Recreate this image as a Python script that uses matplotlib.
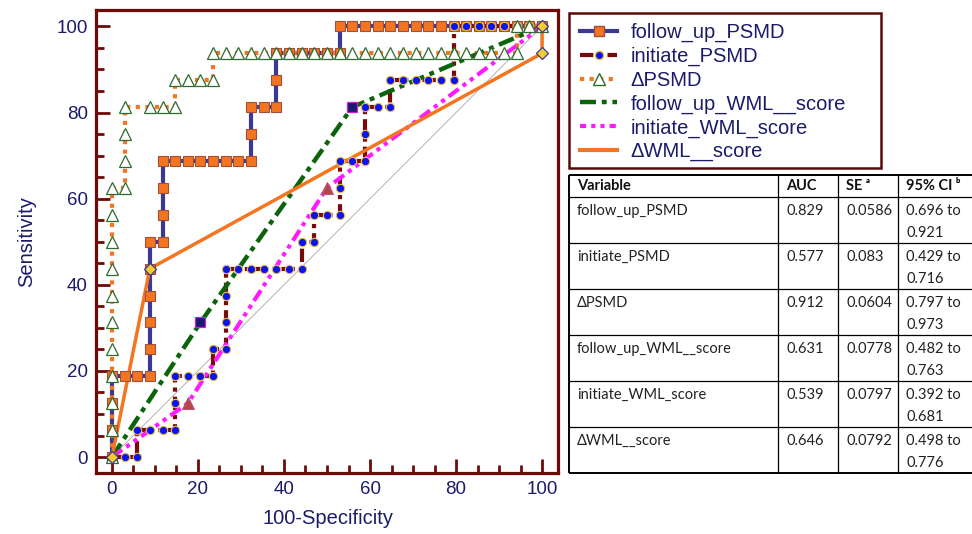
import matplotlib
matplotlib.use("Agg")
import matplotlib.pyplot as plt
from matplotlib.lines import Line2D
from matplotlib.patches import Rectangle

plt.rcParams['font.family'] = ['Liberation Sans', 'DejaVu Sans']

# ROC points (100-Specificity, Sensitivity)
fu_psmd_x = [0, 0, 0, 0, 2.94, 5.88, 8.82, 8.82, 8.82, 8.82, 8.82, 8.82, 11.76, 11.76, 11.76, 11.76,
             14.71, 17.65, 20.59, 23.53, 26.47, 29.41, 32.35, 32.35, 32.35, 35.29, 38.24, 38.24, 38.24,
             41.18, 44.12, 47.06, 50.00, 52.94, 52.94, 55.88, 58.82, 61.76, 64.71, 67.65, 70.59, 73.53,
             76.47, 79.41, 82.35, 85.29, 88.24, 91.18, 94.12, 97.06, 100]
fu_psmd_y = [0, 6.25, 12.5, 18.75, 18.75, 18.75, 18.75, 25, 31.25, 37.5, 43.75, 50, 50, 56.25, 62.5, 68.75,
             68.75, 68.75, 68.75, 68.75, 68.75, 68.75, 68.75, 75, 81.25, 81.25, 81.25, 87.5, 93.75,
             93.75, 93.75, 93.75, 93.75, 93.75, 100, 100, 100, 100, 100, 100, 100, 100,
             100, 100, 100, 100, 100, 100, 100, 100, 100]

init_psmd_x = [0, 2.94, 5.88, 5.88, 8.82, 11.76, 14.71, 14.71, 14.71, 17.65, 20.59, 23.53, 23.53,
               26.47, 26.47, 26.47, 26.47, 29.41, 32.35, 35.29, 38.24, 41.18, 44.12, 44.12, 47.06, 47.06,
               50.00, 52.94, 52.94, 52.94, 55.88, 58.82, 58.82, 58.82, 61.76, 64.71, 64.71, 67.65, 70.59,
               73.53, 76.47, 79.41, 79.41, 79.41, 82.35, 85.29, 88.24, 91.18, 94.12, 97.06, 100]
init_psmd_y = [0, 0, 0, 6.25, 6.25, 6.25, 6.25, 12.5, 18.75, 18.75, 18.75, 18.75, 25,
               25, 31.25, 37.5, 43.75, 43.75, 43.75, 43.75, 43.75, 43.75, 43.75, 50, 50, 56.25,
               56.25, 56.25, 62.5, 68.75, 68.75, 68.75, 75, 81.25, 81.25, 81.25, 87.5, 87.5, 87.5,
               87.5, 87.5, 87.5, 93.75, 100, 100, 100, 100, 100, 100, 100, 100]

d_psmd_x = [0, 0, 0, 0, 0, 0, 0, 0, 0, 0, 0, 2.94, 2.94, 2.94, 2.94, 8.82, 11.76, 14.71, 14.71,
            17.65, 20.59, 23.53, 23.53, 26.47, 29.41, 32.35, 35.29, 38.24, 41.18, 44.12, 47.06, 50.00,
            52.94, 55.88, 58.82, 61.76, 64.71, 67.65, 70.59, 73.53, 76.47, 79.41, 82.35, 85.29, 88.24,
            91.18, 94.12, 94.12, 97.06, 100]
d_psmd_y = [0, 6.25, 12.5, 18.75, 25, 31.25, 37.5, 43.75, 50, 56.25, 62.5, 62.5, 68.75, 75, 81.25,
            81.25, 81.25, 81.25, 87.5, 87.5, 87.5, 87.5, 93.75, 93.75, 93.75, 93.75, 93.75, 93.75,
            93.75, 93.75, 93.75, 93.75, 93.75, 93.75, 93.75, 93.75, 93.75, 93.75, 93.75, 93.75, 93.75,
            93.75, 93.75, 93.75, 93.75, 93.75, 93.75, 100, 100, 100]

fu_wml_x = [0, 20.59, 55.88, 100]
fu_wml_y = [0, 31.25, 81.25, 100]

init_wml_x = [0, 17.65, 50.0, 100]
init_wml_y = [0, 12.5, 62.5, 100]

d_wml_x = [0, 8.82, 100, 100]
d_wml_y = [0, 43.75, 93.75, 100]

labels = ['follow_up_PSMD', 'initiate_PSMD', '\u0394PSMD',
          'follow_up_WML__score', 'initiate_WML_score', '\u0394WML__score']

# table values
tab_header = ['Variable', 'AUC', 'SE \u1d43', '95% CI \u1d47']
tab_auc = ['0.829', '0.577', '0.912', '0.631', '0.539', '0.646']
tab_se = ['0.0586', '0.083', '0.0604', '0.0778', '0.0797', '0.0792']
tab_ci_lo = ['0.696 to', '0.429 to', '0.797 to', '0.482 to', '0.392 to', '0.498 to']
tab_ci_hi = ['0.921', '0.716', '0.973', '0.763', '0.681', '0.776']

navy = '#3A3A96'
txt = '#1B1B6B'
dred = '#6E0A0A'
orange = '#F47520'

fig = plt.figure(figsize=(9.72, 5.34), dpi=100)
ax = fig.add_axes([96 / 972, 1 - 473 / 534, 462 / 972, 463 / 534])

ax.plot([0, 100], [0, 100], color='#A8A8A8', lw=0.6, zorder=1.5)

ax.plot(fu_psmd_x, fu_psmd_y, color=navy, lw=3, zorder=2)
ax.plot(init_psmd_x, init_psmd_y, color='#7A0A0A', lw=3, dashes=(3.2, 1.2, 1, 1.2), zorder=2.1)
ax.plot(d_psmd_x, d_psmd_y, color=orange, lw=3, dashes=(1, 1.3), zorder=2.2)
ax.plot(fu_wml_x, fu_wml_y, color='#0B640B', lw=3.2, dashes=(3.6, 1.3, 1.1, 1.3), zorder=2.3)
ax.plot(init_wml_x, init_wml_y, color='#FF1AFF', lw=3, dashes=(3, 1.2, 1, 1.2, 1, 1.2), zorder=2.4)
ax.plot(d_wml_x, d_wml_y, color=orange, lw=2.5, zorder=2.5)

# markers on top of the lines
ax.plot(fu_psmd_x, fu_psmd_y, ls='none', marker='s', ms=6.5, mfc=orange, mec='#A0503A', mew=0.8, zorder=3)
ax.plot(init_psmd_x, init_psmd_y, ls='none', marker='o', ms=6, mfc='#0A14F0', mec='#F0C040', mew=0.8, zorder=3.1)
ax.plot(d_psmd_x, d_psmd_y, ls='none', marker='^', ms=8, mfc='white', mec='#2E6B2E', mew=0.9, zorder=3.2)
ax.plot(fu_wml_x[1:3], fu_wml_y[1:3], ls='none', marker='s', ms=6.5, mfc='#1A1A70', mec='#D020D0', mew=0.9, zorder=3.3)
ax.plot(init_wml_x[1:3], init_wml_y[1:3], ls='none', marker='^', ms=8, mfc='#B04848', mec='#C05080', mew=0.8, zorder=3.4)
ax.plot(d_wml_x, d_wml_y, ls='none', marker='D', ms=6, mfc='#F8CC30', mec=navy, mew=0.9, zorder=3.5)

ax.set_xlim(-3.7, 103.7)
ax.set_ylim(-3.7, 103.8)
ax.set_xticks([0, 20, 40, 60, 80, 100])
ax.set_yticks([0, 20, 40, 60, 80, 100])
ax.set_xticks(range(0, 101, 5), minor=True)
ax.set_yticks(range(0, 101, 5), minor=True)
ax.tick_params(which='both', direction='in', color=dred, width=2, labelsize=13.5,
               labelcolor=txt, top=False, right=False)
ax.tick_params(which='major', length=10, pad=6)
ax.tick_params(which='minor', length=6)
for s in ax.spines.values():
    s.set_color(dred)
    s.set_linewidth(2.3)

ax.set_xlabel('100-Specificity', fontsize=14.5, color=txt)
ax.set_ylabel('Sensitivity', fontsize=14.5, color=txt)
ax.xaxis.set_label_coords(0.503, -0.078)
ax.yaxis.set_label_coords(-0.13, 0.5)

# legend
handles = [
    Line2D([], [], color=navy, lw=3, marker='s', ms=6.5, mfc=orange, mec='#A0503A'),
    Line2D([], [], color='#7A0A0A', lw=3, dashes=(3.2, 1.2, 1, 1.2), marker='o', ms=6, mfc='#0A14F0', mec='#F0C040'),
    Line2D([], [], color=orange, lw=3, dashes=(1, 1.3), marker='^', ms=8, mfc='white', mec='#2E6B2E'),
    Line2D([], [], color='#0B640B', lw=3.2, dashes=(3.6, 1.3, 1.1, 1.3)),
    Line2D([], [], color='#FF1AFF', lw=3, dashes=(1.5, 1.2, 1, 1.2, 1, 1.2)),
    Line2D([], [], color=orange, lw=3),
]
leg = fig.legend(handles, labels, loc='upper left', bbox_to_anchor=(580 / 972, 1 - 23 / 534),
                 frameon=False, fontsize=14.5, borderpad=0, borderaxespad=0, handlelength=1.85,
                 handletextpad=0.65, labelspacing=0.23, numpoints=1)
for t in leg.get_texts():
    t.set_color(txt)

# overlay in pixel coordinates for legend frame and table
ov = fig.add_axes([0, 0, 1, 1], zorder=-1)
ov.set_xlim(0, 972)
ov.set_ylim(534, 0)
ov.axis('off')
ov.add_patch(Rectangle((569, 13), 312, 155, fill=False, ec='#5A0A0A', lw=1.8))

col_x = [569, 778, 838, 898]
row_y = [175, 197, 243, 289, 335, 381, 427, 473]
ov.hlines(row_y[1:-1], 569, 972, color='black', lw=0.9)
ov.hlines([row_y[0], row_y[-1]], 569, 972, color='black', lw=1.4)
ov.vlines(col_x[1:], 175, 473, color='black', lw=0.9)
ov.vlines(col_x[0], 175, 473, color='black', lw=1.4)

tfont = ['Lato', 'DejaVu Sans']
for j, h in enumerate(tab_header):
    ov.text(col_x[j] + 8, 186, h, fontsize=10.5, fontweight='bold', family=tfont,
            va='center', ha='left', color='#111111')
for i in range(6):
    top = row_y[i + 1]
    ov.text(col_x[0] + 8, top + 14, labels[i], fontsize=10.5, family=tfont, va='center', color='#222222')
    ov.text(col_x[1] + 8, top + 14, tab_auc[i], fontsize=10.5, family=tfont, va='center', color='#222222')
    ov.text(col_x[2] + 8, top + 14, tab_se[i], fontsize=10.5, family=tfont, va='center', color='#222222')
    ov.text(col_x[3] + 8, top + 14, tab_ci_lo[i], fontsize=10.5, family=tfont, va='center', color='#222222')
    ov.text(col_x[3] + 8, top + 36, tab_ci_hi[i], fontsize=10.5, family=tfont, va='center', color='#222222')

fig.savefig('out.png', dpi=100)
